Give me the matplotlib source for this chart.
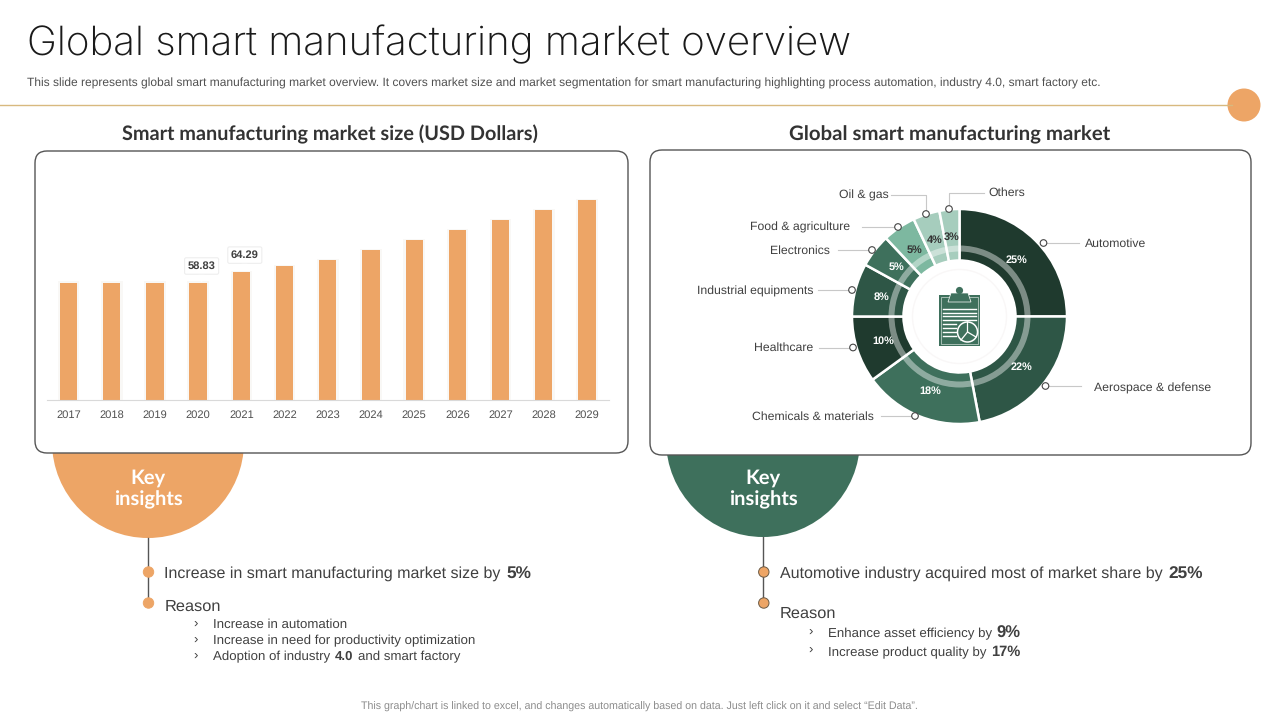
import matplotlib
matplotlib.use('Agg')
import matplotlib.pyplot as plt
from matplotlib.patches import Circle, FancyBboxPatch, Rectangle, Wedge, Polygon

# market size chart
years = ['2017', '2018', '2019', '2020', '2021', '2022', '2023', '2024', '2025', '2026', '2027', '2028', '2029']
market_size = [58.83, 58.83, 58.83, 58.83, 64.29, 67.2, 70.2, 75.2, 80.2, 85.2, 90.2, 95.3, 100.3]
labelled_years = ['2020', '2021']

# market share donut, clockwise from the top
segments = ['Automotive', 'Aerospace & defense', 'Chemicals & materials', 'Healthcare',
            'Industrial equipments', 'Electronics', 'Food & agriculture', 'Oil & gas', 'Others']
shares = [25, 22, 18, 10, 8, 5, 5, 4, 3]
segment_colors = ['#1f3a2e', '#2e5646', '#3e705c', '#1f3a2e', '#2e5646', '#3e705c', '#7db8a0', '#a6cdbd', '#a6cdbd']
dark_text_segments = ['Food & agriculture', 'Oil & gas', 'Others']

ORANGE = '#eda566'
GREEN = '#3e705c'
TEXT = '#404040'
SANS = 'Liberation Sans'
HEAD = 'Lato'

plt.rcParams['font.family'] = [SANS, 'DejaVu Sans']
plt.rcParams['text.hinting'] = 'none'

fig = plt.figure(figsize=(12.8, 7.2), dpi=100)


def layer(zorder):
    # full size layer in pixel coordinates
    ax = fig.add_axes([0, 0, 1, 1], zorder=zorder)
    ax.set_xlim(0, 1280)
    ax.set_ylim(720, 0)
    ax.axis('off')
    return ax


bg = layer(0)
top = layer(6)


def axes_px(left, t, right, bottom, zorder):
    ax = fig.add_axes([left / 1280, 1 - bottom / 720, (right - left) / 1280, (bottom - t) / 720], zorder=zorder)
    ax.patch.set_alpha(0)
    return ax


def runs(x, y, parts, size, bold_size=None, bold_dy=0):
    # write regular and bold pieces one after the other on a shared baseline
    renderer = fig.canvas.get_renderer()
    baseline = y + size * 0.5
    for text, bold in parts:
        t = bg.text(x, baseline + (bold_dy if bold else 0), text, fontsize=(bold_size or size) if bold else size,
                    color=TEXT, va='baseline', ha='left', fontweight='bold' if bold else 'normal', zorder=6)
        x = bg.transData.inverted().transform(t.get_window_extent(renderer).max)[0]
        x += size * 0.34 * (100 / 72)


def dot(x, y, edge):
    bg.add_patch(Circle((x, y), 5.2, fc=ORANGE, ec=edge, lw=0.7, zorder=5))


# header
bg.text(27, 55, 'Global smart manufacturing market overview', fontsize=29, family='Inter', fontweight='light',
        color='#1a1a1a', va='baseline')
bg.text(27, 83.5, 'This slide represents global smart manufacturing market overview. It covers market size and market '
        'segmentation for smart manufacturing highlighting process automation, industry 4.0, smart factory etc.',
        fontsize=8.63, color='#505050', va='center')
bg.plot([0, 1232], [105, 105], color='#d8b97f', lw=1)
bg.add_patch(Circle((1244, 105), 16.5, fc=ORANGE, ec='none'))

# panel titles
bg.text(330, 134, 'Smart manufacturing market size (USD Dollars)', fontsize=14.3, family=HEAD, fontweight='bold',
        color='#333333', ha='center', va='center')
bg.text(949.5, 135, 'Global smart manufacturing market', fontsize=14.7, family=HEAD, fontweight='bold',
        color='#333333', ha='center', va='center')

# key insight circles sit behind the panels
bg.add_patch(Circle((148, 442), 96, fc=ORANGE, ec='none', zorder=1))
bg.add_patch(Circle((763, 440), 97, fc=GREEN, ec='none', zorder=1))
for px, py, word in [(148, 477.5, 'Key'), (148, 500, 'insights'), (763, 477.5, 'Key'), (763, 500, 'insights')]:
    bg.text(px, py, word, fontsize=14.5, family=HEAD, fontweight='bold', color='white', ha='center', va='center', zorder=6)

for left, t, right, bottom in [(35, 151, 628, 453), (650, 150, 1251, 455)]:
    bg.add_patch(FancyBboxPatch((left + 12, t + 12), right - left - 24, bottom - t - 24,
                                boxstyle='round,pad=12,rounding_size=12', fc='white', ec='#555555', lw=1, zorder=2))

# bars
ax = axes_px(47, 190, 609, 400, 3)
positions = list(range(len(years)))
ax.bar(positions, [v + 0.6 for v in market_size], width=0.5, color='#f9f8f6', zorder=1)
ax.bar(positions, market_size, width=0.4, color=ORANGE, zorder=2)
ax.set_xlim(-0.498, 12.51)
ax.set_ylim(0, 105.3)
ax.set_xticks(positions)
ax.set_xticklabels(years, fontsize=8, color='#505050')
ax.set_yticks([])
ax.tick_params(axis='x', length=0, pad=6.8)
for side in ['top', 'left', 'right']:
    ax.spines[side].set_visible(False)
ax.spines['bottom'].set_color('#d9d9d9')
for year in labelled_years:
    i = years.index(year)
    ax.annotate('%.2f' % market_size[i], xy=(i, market_size[i]), xytext=(2.5, 12), textcoords='offset points',
                ha='center', va='center', fontsize=8, fontweight='bold', color=TEXT, zorder=4,
                bbox=dict(boxstyle='round,pad=0.28,rounding_size=0.15', fc='white', ec='#eeeeee', lw=0.8))
    ax.plot(i + 0.06, market_size[i] + 2.2, marker='v', ms=5, color='white', zorder=5)

# donut, one data unit is one pixel here
pie_ax = axes_px(849.5, 206.5, 1069.5, 426.5, 3)
wedges, _, pct_texts = pie_ax.pie(shares, colors=segment_colors, startangle=90, counterclock=False, radius=107.5,
                                  autopct='%.0f%%', pctdistance=80 / 107.5,
                                  wedgeprops=dict(width=51.5, edgecolor='white', linewidth=1.8))
for name, pct in zip(segments, pct_texts):
    pct.set_color('#333333' if name in dark_text_segments else 'white')
    pct.set_fontsize(7.8)
    pct.set_fontweight('bold')
pie_ax.add_patch(Wedge((0, 0), 71, 0, 360, width=6, fc=(1, 1, 1, 0.42), ec='none', zorder=3))
pie_ax.add_patch(Circle((0, 0), 47, fc='white', ec='#f9f7f7', lw=1, zorder=3))
pie_ax.set_xlim(-110, 110)
pie_ax.set_ylim(-110, 110)

# clipboard icon in the donut hole
icon = axes_px(900, 276, 1020, 356, 4)
icon.set_xlim(900, 1020)
icon.set_ylim(356, 276)
icon.axis('off')
icon.add_patch(Rectangle((939, 295), 41, 51, fc=GREEN, ec='none'))
icon.add_patch(Rectangle((941, 297), 37, 47, fc='none', ec='#cfdcd6', lw=0.5))
icon.add_patch(Polygon([(948, 302), (951, 293), (968, 293), (971, 302)], fc=GREEN, ec='white', lw=0.5))
icon.add_patch(Circle((959.5, 290.5), 3.6, fc=GREEN, ec='none'))
for ly, x_end in [(309, 976), (312.5, 976), (316, 976), (319.5, 976), (324, 956), (328, 956), (332, 956), (336, 956)]:
    icon.plot([943, x_end], [ly, ly], color='white', lw=1)
icon.add_patch(Circle((967.5, 332), 10, fc=GREEN, ec='white', lw=1.1))
icon.plot([967.5, 967.5, 976], [322, 332, 337], color='white', lw=0.9)
icon.plot([967.5, 961], [332, 340], color='white', lw=0.9)

# donut callouts: label anchor, then elbow points towards the hollow marker
callouts = [
    (1085, 244, 'left', [(1079, 243), (1043.5, 243)]),
    (1094, 388, 'left', [(1081, 386), (1045.5, 386)]),
    (874, 417, 'right', [(881, 416), (915, 416)]),
    (813, 348, 'right', [(819, 347.5), (853, 347.5)]),
    (813, 291, 'right', [(818, 290), (852, 290)]),
    (830, 251, 'right', [(838, 250), (872, 250)]),
    (850, 227, 'right', [(862, 227), (898, 227)]),
    (889, 195, 'right', [(891, 195), (926, 195), (926, 214)]),
    (988, 193, 'left', [(984, 193), (949, 193), (949, 209)]),
]
for name, (tx, ty, ha, pts) in zip(segments, callouts):
    top.text(tx, ty, name, fontsize=8.8, color=TEXT, ha=ha, va='center')
    top.plot([p[0] for p in pts], [p[1] for p in pts], color='#c8c8c8', lw=0.8)
    top.add_patch(Circle(pts[-1], 3.3, fc='white', ec='#444444', lw=0.8, zorder=7))

# left insights
bg.plot([148, 148], [538, 603], color='#555555', lw=1, zorder=4)
dot(148.5, 572, ORANGE)
dot(148.5, 603, ORANGE)
runs(164.5, 571.5, [('Increase in smart manufacturing market size by', False), ('5%', True)], 11.5, 12.4, 2)
runs(165, 605, [('Reason', False)], 11.8)
for ly, parts in [(623.5, [('Increase in automation', False)]),
                  (639.5, [('Increase in need for productivity optimization', False)]),
                  (656, [('Adoption of industry', False), ('4.0', True), ('and smart factory', False)])]:
    bg.text(196, ly + 1, '›', fontsize=9.5, color=TEXT, ha='center', va='center')
    runs(213, ly, parts, 9.5, None, -1)

# right insights
bg.plot([763, 763], [537, 603], color='#555555', lw=1, zorder=4)
dot(763.8, 572, '#6b5a45')
dot(763.8, 603, '#6b5a45')
runs(780, 571.5, [('Automotive industry acquired most of market share by', False), ('25%', True)], 11.5, 12.4, 2)
runs(780, 611.5, [('Reason', False)], 11.8)
bg.text(811, 633, '›', fontsize=9.5, color=TEXT, ha='center', va='center')
runs(828, 632.5, [('Enhance asset efficiency by', False), ('9%', True)], 9.5, 12, 1)
bg.text(811, 651, '›', fontsize=9.5, color=TEXT, ha='center', va='center')
runs(828, 651.5, [('Increase product quality by', False), ('17%', True)], 9.5, 10.5, -0.5)

bg.text(639, 707, 'This graph/chart is linked to excel, and changes automatically based on data. '
        'Just left click on it and select “Edit Data”.', fontsize=7.63, color='#8c8c8c', ha='center', va='center')

fig.savefig('out.png', dpi=100)
